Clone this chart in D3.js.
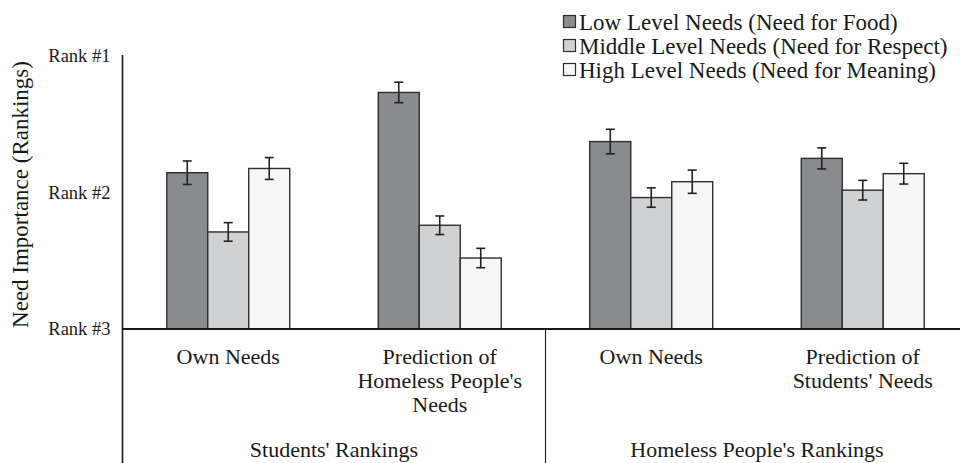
<!DOCTYPE html>
<html>
<head>
<meta charset="utf-8">
<script src="https://cdn.jsdelivr.net/npm/d3@7"></script>
<style>
  html, body { margin: 0; padding: 0; background: #fff; }
  svg { display: block; font-family: "Liberation Serif", "Times New Roman", serif; }
</style>
</head>
<body>
<svg id="chart" width="960" height="463"></svg>
<script>
// Category groups along the x axis (label lines), and their parent groupings
const categories = ["S-Own", "S-Pred", "H-Own", "H-Pred"];
const categoryLines = [
  ["Own Needs"],
  ["Prediction of", "Homeless People's", "Needs"],
  ["Own Needs"],
  ["Prediction of", "Students' Needs"]
];
const groupNames = ["Students' Rankings", "Homeless People's Rankings"];

// Series (need levels)
const series = [
  "Low Level Needs (Need for Food)",
  "Middle Level Needs (Need for Respect)",
  "High Level Needs (Need for Meaning)"
];
const seriesColors = ["#8a8b8e", "#d0d1d3", "#f7f7f7"];

// Mean rank per category for each series (1 = most important)
const lowMeans  = [1.855, 1.267, 1.627, 1.750];
const midMeans  = [2.289, 2.240, 2.037, 1.983];
const highMeans = [1.824, 2.480, 1.921, 1.862];

// Standard errors
const lowErr  = [0.086, 0.075, 0.090, 0.077];
const midErr  = [0.068, 0.068, 0.071, 0.072];
const highErr = [0.080, 0.071, 0.085, 0.076];

// Y axis tick values and labels
const tickValues = [1, 2, 3];
const tickLabels = ["Rank #1", "Rank #2", "Rank #3"];

const svg = d3.select("#chart");
const W = 960, H = 463;
const plot = { left: 122.5, right: 968.5, top: 56, bottom: 329 };

const x0 = d3.scaleBand().domain(categories).range([plot.left, plot.right]).padding(0);
const x1 = d3.scaleBand().domain(series).range([0, x0.bandwidth()])
  .paddingInner(0).paddingOuter(1.08);
const y = d3.scaleLinear().domain([3, 1]).range([plot.bottom, plot.top]);

const means = [lowMeans, midMeans, highMeans];
const errs = [lowErr, midErr, highErr];
const rows = [];
categories.forEach((c, ci) => {
  series.forEach((s, si) => {
    rows.push({ cat: c, ser: s, si, v: means[si][ci], e: errs[si][ci] });
  });
});

// Bars
svg.append("g").selectAll("rect").data(rows).join("rect")
  .attr("x", d => x0(d.cat) + x1(d.ser))
  .attr("y", d => y(d.v))
  .attr("width", x1.bandwidth())
  .attr("height", d => y(3) - y(d.v))
  .attr("fill", d => seriesColors[d.si])
  .attr("stroke", "#2e2e2e")
  .attr("stroke-width", 1.4);

// Error bars
const eg = svg.append("g").attr("stroke", "#222").attr("stroke-width", 1.6).attr("fill", "none");
rows.forEach(d => {
  const cx = x0(d.cat) + x1(d.ser) + x1.bandwidth() / 2;
  const y1 = y(d.v - d.e), y2 = y(d.v + d.e);
  eg.append("line").attr("x1", cx).attr("x2", cx).attr("y1", y1).attr("y2", y2);
  eg.append("line").attr("x1", cx - 4.5).attr("x2", cx + 4.5).attr("y1", y1).attr("y2", y1);
  eg.append("line").attr("x1", cx - 4.5).attr("x2", cx + 4.5).attr("y1", y2).attr("y2", y2);
});

// Y axis with rank labels
const yAxis = d3.axisLeft(y).tickValues(tickValues)
  .tickFormat((d, i) => tickLabels[i]).tickSize(0).tickPadding(12);
const yg = svg.append("g").attr("transform", `translate(${plot.left},0)`).call(yAxis);
yg.select(".domain").remove();
yg.selectAll("text").attr("font-family", "Liberation Serif").attr("font-size", 18.5).attr("fill", "#1a1a1a");

// Vertical axis line continuing down through the category area
svg.append("line")
  .attr("x1", plot.left).attr("x2", plot.left)
  .attr("y1", plot.top - 1).attr("y2", H)
  .attr("stroke", "#1a1a1a").attr("stroke-width", 1.6);

// Horizontal baseline
svg.append("line")
  .attr("x1", plot.left).attr("x2", W)
  .attr("y1", y(3)).attr("y2", y(3))
  .attr("stroke", "#1a1a1a").attr("stroke-width", 2.2);

// Separator between the two ranking groups
svg.append("line")
  .attr("x1", x0(categories[2])).attr("x2", x0(categories[2]))
  .attr("y1", y(3)).attr("y2", H)
  .attr("stroke", "#1a1a1a").attr("stroke-width", 1.1);

// Category labels
const catG = svg.append("g").attr("font-size", 22).attr("fill", "#1a1a1a").attr("text-anchor", "middle");
categories.forEach((c, ci) => {
  const cx = x0(c) + x0.bandwidth() / 2;
  categoryLines[ci].forEach((line, li) => {
    catG.append("text").attr("x", cx).attr("y", 363.5 + li * 24).text(line);
  });
});

// Group labels
groupNames.forEach((g, gi) => {
  const a = x0(categories[gi * 2]);
  const b = x0(categories[gi * 2 + 1]) + x0.bandwidth();
  catG.append("text").attr("x", (a + b) / 2).attr("y", 457).text(g);
});

// Y axis title
svg.append("text")
  .attr("transform", `translate(28,${(plot.top + plot.bottom) / 2 + 2}) rotate(-90)`)
  .attr("text-anchor", "middle")
  .attr("font-size", 23)
  .attr("fill", "#1a1a1a")
  .text("Need Importance (Rankings)");

// Legend
const lg = svg.append("g").attr("transform", "translate(563,15)");
series.forEach((s, i) => {
  const row = lg.append("g").attr("transform", `translate(0,${i * 24})`);
  row.append("rect").attr("x", 0.5).attr("y", 0.5).attr("width", 12).attr("height", 12)
    .attr("fill", seriesColors[i]).attr("stroke", "#2e2e2e").attr("stroke-width", 1.2);
  row.append("text").attr("x", 16).attr("y", 14.5).attr("font-size", 23).attr("fill", "#1a1a1a").text(s);
});
</script>
</body>
</html>
